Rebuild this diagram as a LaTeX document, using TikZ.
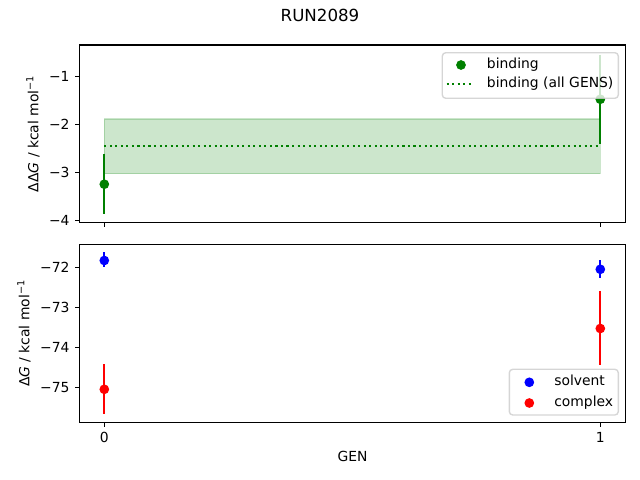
\documentclass[tikz,border=0pt]{standalone}
\usepackage{fontspec}
\setmainfont{DejaVu Sans}
\usetikzlibrary{positioning}

\definecolor{mplgreen}{HTML}{008000}
\definecolor{mplblue}{HTML}{0000FF}
\definecolor{mplred}{HTML}{FF0000}
\definecolor{legendedge}{HTML}{CCCCCC}

\begin{document}
\begin{tikzpicture}[x=0.72pt, y=-0.72pt, font=\fontsize{10}{12}\selectfont,
    dot/.style={circle, inner sep=0pt, minimum size=7pt, draw=none},
    errbar/.style={line width=1.5pt},
    axisbox/.style={line width=0.8pt},
    tickmark/.style={line width=0.8pt},
    ylab/.style={anchor=east, inner sep=0pt, xshift=-7pt},
    xlab/.style={anchor=north, inner sep=0pt, yshift=-7pt},
    legendbox/.style={draw=legendedge, fill=white, fill opacity=0.8, draw opacity=0.8, line width=1pt, rounded corners=2.5pt},
    legendtext/.style={anchor=base west, inner sep=0pt}]
\useasboundingbox (0,0) rectangle (640,480);
\node (title) at (320,15) {\fontsize{12}{14}\selectfont RUN2089};

% top panel: binding free energy
\begin{scope}[shift={(104.3,28.7)}, x=357.12pt, y=34.56pt]
\fill [mplgreen, fill opacity=0.2] (0,-1.88) rectangle (1,-3.02);
\draw [mplgreen, draw opacity=0.2, line width=1pt] (0,-1.88) rectangle (1,-3.02);
\draw [mplgreen, line width=1.5pt, dash pattern=on 1.5pt off 2.475pt] (0,-2.44) -- (1,-2.44);
\draw [errbar, mplgreen] (0,-2.60) -- (0,-3.87);
\draw [errbar, mplgreen] (1,-0.54) -- (1,-2.40);
\node [dot, fill=mplgreen] (bind0) at (0,-3.24) {};
\node [dot, fill=mplgreen] (bind1) at (1,-1.47) {};
\draw [axisbox] (-0.05,-0.34) rectangle (1.05,-4.04);
\foreach \v [count=\i] in {-1,-2,-3,-4} {
    \draw [tickmark] (-0.05,\v) -- ++(-3.5pt,0);
    \node [ylab] (ytop\i) at (-0.05,\v) {−\the\numexpr-\v\relax};
}
\foreach \x in {0,1} {
    \draw [tickmark] (\x,-4.04) -- ++(0,-3.5pt);
}
\end{scope}
\node [rotate=90] (ylabeltop) at (33,133.7) {ΔΔ\textit{G} / kcal mol\textsuperscript{−1}};

% legend of top panel
\draw [legendbox] (442.3,52.7) rectangle (618.3,98.3);
\node [dot, fill=mplgreen] (legbind) at (461,65) {};
\node [legendtext] (legbindtext) at (486.7,68.8) {binding};
\draw [mplgreen, line width=1.5pt, dash pattern=on 1.5pt off 2.475pt] (446.7,84) -- (474.3,84);
\node [legendtext] (legalltext) at (486.7,87.8) {binding (all GENS)};

% bottom panel: solvent and complex legs
\begin{scope}[shift={(104.3,-2612.7)}, x=357.12pt, y=28.8pt]
\draw [errbar, mplblue] (0,-71.62) -- (0,-71.99);
\draw [errbar, mplred] (0,-74.42) -- (0,-75.66);
\draw [errbar, mplblue] (1,-71.82) -- (1,-72.26);
\draw [errbar, mplred] (1,-72.59) -- (1,-74.43);
\node [dot, fill=mplblue] (solv0) at (0,-71.83) {};
\node [dot, fill=mplred] (cplx0) at (0,-75.05) {};
\node [dot, fill=mplblue] (solv1) at (1,-72.05) {};
\node [dot, fill=mplred] (cplx1) at (1,-73.53) {};
\draw [axisbox] (-0.05,-71.43) rectangle (1.05,-75.875);
\foreach \v [count=\i] in {-72,-73,-74,-75} {
    \draw [tickmark] (-0.05,\v) -- ++(-3.5pt,0);
    \node [ylab] (ybot\i) at (-0.05,\v) {−\the\numexpr-\v\relax};
}
\foreach \x in {0,1} {
    \draw [tickmark] (\x,-75.875) -- ++(0,-3.5pt);
    \node [xlab] (xbot\x) at (\x,-75.875) {\x};
}
\end{scope}
\node [rotate=90] (ylabelbot) at (24,333.4) {Δ\textit{G} / kcal mol\textsuperscript{−1}};
\node (genlabel) at (352.5,456.7) {GEN};

% legend of bottom panel
\draw [legendbox] (509.3,369.3) rectangle (618.3,415);
\node [dot, fill=mplblue] (legsolv) at (529.3,382.3) {};
\node [legendtext] (legsolvtext) at (554,385.8) {solvent};
\node [dot, fill=mplred] (legcplx) at (529.3,403) {};
\node [legendtext] (legcplxtext) at (554,406.5) {complex};
\end{tikzpicture}
\end{document}
